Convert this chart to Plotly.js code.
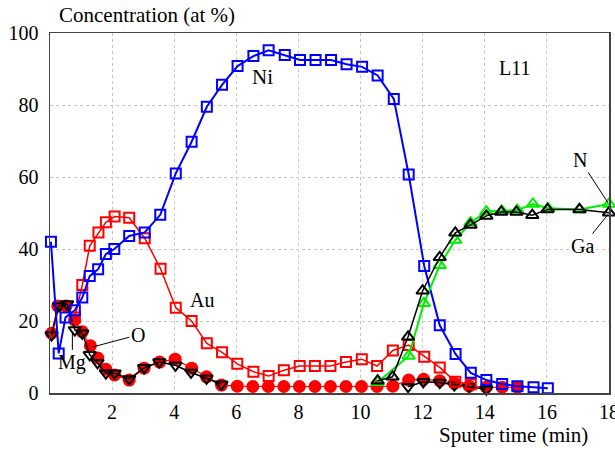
<!DOCTYPE html>
<html>
<head>
<meta charset="utf-8">
<script src="https://cdn.plot.ly/plotly-3.0.1.min.js"></script>
<style>html,body{margin:0;padding:0;background:#fff;}#chart{width:615px;height:450px;}</style>
</head>
<body>
<div id="chart"></div>
<script>
// Ni (blue open squares)
const niX = [0.03,0.28,0.5,0.8,1.04,1.28,1.55,1.8,2.07,2.55,3.05,3.55,4.05,4.56,5.05,5.54,6.04,6.55,7.04,7.56,8.05,8.55,9.05,9.55,10.05,10.55,11.07,11.55,12.05,12.55,13.06,13.55,14.05,14.56,15.05,15.57,16.03];
const niY = [42,11,21,23,26.5,32.5,34.4,38.6,40,43.6,44.6,49.5,61,69.8,79.5,85.6,90.8,93.6,95.2,93.9,92.5,92.5,92.5,91.3,90.6,88.2,81.7,60.7,35.3,18.8,10.8,5.6,3.6,2.5,1.9,1.6,1.3];
// Au (red open squares)
const auX = [0.8,1.04,1.28,1.56,1.8,2.08,2.55,3.05,3.56,4.05,4.56,5.05,5.54,6.03,6.55,7.04,7.53,8.04,8.53,9.03,9.53,10.04,10.53,11.04,11.55,12.05,12.55,13.05,13.55];
const auY = [21,30,40.9,44.6,47.4,49,48.7,43,34.5,23.7,20,13.8,11.3,8.1,5.9,4.7,6.3,7.5,7.5,7.5,8.6,9.4,7.5,11.8,13.3,10.1,7.1,3.1,2.4];
// O (red filled circles)
const oX = [0.05,0.25,0.52,0.79,1.04,1.3,1.54,1.8,2.08,2.55,3.03,3.53,4.03,4.56,5.04,5.52,6.03,6.53,7.03,7.53,8.03,8.53,9.03,9.53,10.03,10.53,11.04,11.55,12.03,12.55,13.02,13.5,14.05,14.56,15.05];
const oY = [16.6,24.2,24.2,20.3,17,13.1,9.7,6.6,5,3.6,6.9,8.6,9.4,6.9,4.5,2.2,1.9,1.8,1.8,1.8,1.8,1.8,1.8,1.8,1.8,1.8,1.9,3.6,3.8,3.4,2.7,1.9,1.6,1.6,1.6];
// Mg (black open down-triangles)
const mgX = [0.05,0.29,0.55,0.8,1.04,1.28,1.53,1.8,2.08,2.55,3.03,3.52,4.04,4.54,5.04,5.52,null,11.53,12.02,12.55,13.02,13.5,14.05];
const mgY = [16.1,24.2,24.7,17.5,16.6,10.6,8.4,5.5,5.5,3.9,7,8.6,7.7,5.7,4.1,2.4,null,1.75,3.1,2.9,2.2,1.75,1.0];
// N (green open up-triangles)
const nX = [10.55,11.55,12.04,12.55,13.05,13.54,14.05,14.55,15.05,15.55,16.04,17.05,18];
const nY = [3.0,10.3,24.9,35.5,42.5,47.3,50.4,50.6,50.8,52.5,51.3,51,52.5];
// Ga (black open up-triangles)
const gaX = [10.55,11.03,11.53,12.0,12.55,13.05,13.54,14.05,14.53,15.02,15.53,16.02,17.05,18];
const gaY = [3.4,4.5,15.6,28.4,37.7,44.5,46.7,49.2,50.3,50.3,49.4,51,51,50.1];

const xTicks = [2,4,6,8,10,12,14,16,18];
const yTicks = [0,20,40,60,80,100];

const FONT = 'Liberation Serif, Times New Roman, serif';

const traces = [
  {x: oX, y: oY, name: 'O', mode: 'lines+markers', cliponaxis: false,
   line: {color: '#ff0000', width: 1.2},
   marker: {symbol: 'circle', size: 13, color: '#ff0000'}},
  {x: mgX, y: mgY, name: 'Mg', mode: 'lines+markers', cliponaxis: false, connectgaps: false,
   line: {color: '#000000', width: 1.5},
   marker: {symbol: 'triangle-down-open', size: 11, color: '#000000', line: {width: 2}}},
  {x: auX, y: auY, name: 'Au', mode: 'lines+markers', cliponaxis: false,
   line: {color: '#ff0000', width: 1.5},
   marker: {symbol: 'square-open', size: 10, color: '#ff0000', line: {width: 2}}},
  {x: niX, y: niY, name: 'Ni', mode: 'lines+markers', cliponaxis: false,
   line: {color: '#0000ff', width: 2},
   marker: {symbol: 'square-open', size: 10, color: '#0000ff', line: {width: 2}}},
  {x: nX, y: nY, name: 'N', mode: 'lines+markers', cliponaxis: false,
   line: {color: '#00ee00', width: 2},
   marker: {symbol: 'triangle-up-open', size: 11, color: '#00ee00', line: {width: 2}}},
  {x: gaX, y: gaY, name: 'Ga', mode: 'lines+markers', cliponaxis: false,
   line: {color: '#000000', width: 1.5},
   marker: {symbol: 'triangle-up-open', size: 11, color: '#000000', line: {width: 2}}}
];

const axisCommon = {
  showgrid: true, gridcolor: '#c8c8c8', griddash: 'dot', gridwidth: 1,
  zeroline: false, showline: true, mirror: true, linecolor: '#444444', linewidth: 1.5,
  ticks: '', ticklabeloverflow: 'allow', tickfont: {family: FONT, size: 20, color: '#000'}
};

const layout = {
  width: 615, height: 450,
  margin: {l: 50, r: 6, t: 33, b: 57},
  paper_bgcolor: '#ffffff', plot_bgcolor: '#ffffff',
  showlegend: false,
  font: {family: FONT, size: 20, color: '#000'},
  xaxis: Object.assign({}, axisCommon, {range: [0, 18], tickmode: 'array', tickvals: xTicks, ticktext: xTicks.map(String)}),
  yaxis: Object.assign({}, axisCommon, {range: [0, 100], tickmode: 'array', tickvals: yTicks, ticktext: yTicks.map(String), ticklabelstandoff: 6}),
  annotations: [
    {text: 'Concentration (at %)', xref: 'paper', yref: 'paper', x: 0.012, y: 1.05, xanchor: 'left', yanchor: 'middle', showarrow: false, font: {family: FONT, size: 21}},
    {text: 'Sputer time (min)', xref: 'paper', yref: 'paper', x: 0.83, y: -0.117, xanchor: 'center', yanchor: 'middle', showarrow: false, font: {family: FONT, size: 21}},
    {text: 'Ni', x: 6.85, y: 87.8, xref: 'x', yref: 'y', showarrow: false, font: {family: FONT, size: 21}},
    {text: 'L11', x: 14.97, y: 90.3, xref: 'x', yref: 'y', showarrow: false, font: {family: FONT, size: 20}},
    {text: 'Au', x: 4.88, y: 25.8, xref: 'x', yref: 'y', showarrow: false, font: {family: FONT, size: 20}},
    {text: 'O', x: 1.38, y: 12.8, xref: 'x', yref: 'y', ax: 45, ay: -12, showarrow: true, arrowhead: 0, arrowwidth: 1, arrowcolor: '#000', standoff: 0, font: {family: FONT, size: 20}},
    {text: 'Mg', x: 0.72, y: 16.7, xref: 'x', yref: 'y', ax: 0, ay: 30, showarrow: true, arrowhead: 0, arrowwidth: 1, arrowcolor: '#000', standoff: 0, font: {family: FONT, size: 20}},
    {text: 'N', x: 17.97, y: 52.8, xref: 'x', yref: 'y', ax: -28, ay: -43, showarrow: true, arrowhead: 0, arrowwidth: 1, arrowcolor: '#000', standoff: 0, font: {family: FONT, size: 20}},
    {text: 'Ga', x: 17.95, y: 49.4, xref: 'x', yref: 'y', ax: -25, ay: 31, showarrow: true, arrowhead: 0, arrowwidth: 1, arrowcolor: '#000', standoff: 0, font: {family: FONT, size: 20}}
  ]
};

Plotly.newPlot('chart', traces, layout, {staticPlot: true, displayModeBar: false});
</script>
</body>
</html>
